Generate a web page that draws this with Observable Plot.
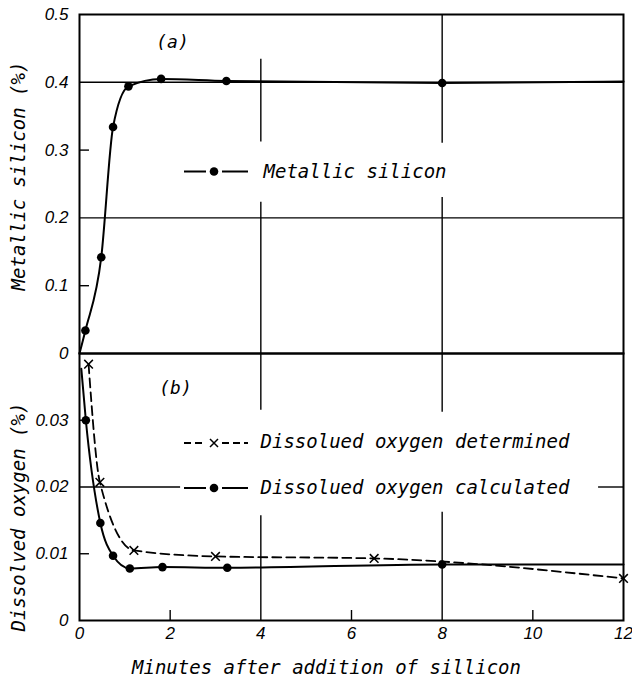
<!DOCTYPE html>
<html><head><meta charset="utf-8">
<script src="https://cdn.jsdelivr.net/npm/d3@7"></script>
<script src="https://cdn.jsdelivr.net/npm/@observablehq/plot@0.6"></script>
<style>
body{margin:0;background:#fff;}
#chart{width:632px;height:680px;position:relative;background:#fff;}
#chart svg{display:block;overflow:visible;}
</style></head><body><div id="chart"></div>
<script>
// ---- data ----
const siTime = [0.13, 0.48, 0.74, 1.08, 1.8, 3.24, 8];
const siValue = [0.034, 0.142, 0.334, 0.394, 0.405, 0.402, 0.399];
const siLineTime = [0, 0.13, 0.48, 0.74, 1.08, 1.8, 3.24, 8, 12];
const siLineValue = [0, 0.034, 0.142, 0.334, 0.394, 0.405, 0.402, 0.399, 0.401];

const detTime = [0.2, 0.45, 1.2, 3.0, 6.5, 12];
const detValue = [0.0384, 0.0207, 0.0105, 0.0096, 0.0093, 0.0063];

const calcTime = [0.14, 0.46, 0.74, 1.11, 1.83, 3.26, 8];
const calcValue = [0.030, 0.0146, 0.0097, 0.0078, 0.0080, 0.0079, 0.0084];
const calcLineTime = [0.04, 0.14, 0.46, 0.74, 1.11, 1.83, 3.26, 8, 12];
const calcLineValue = [0.0377, 0.030, 0.0146, 0.0097, 0.0078, 0.0080, 0.0079, 0.0084, 0.0084];

const xTicks = [0, 2, 4, 6, 8, 10, 12];
const xTickLabels = ["0", "2", "4", "6", "8", "10", "12"];
const siTicks = [0, 0.1, 0.2, 0.3, 0.4, 0.5];
const siTickLabels = ["0", "0.1", "0.2", "0.3", "0.4", "0.5"];
const oxTicks = [0, 0.01, 0.02, 0.03];
const oxTickLabels = ["0", "0.01", "0.02", "0.03"];

const labels = {
  x: "Minutes after addition of sillicon",
  ySi: "Metallic silicon (%)",
  yOx: "Dissolved oxygen (%)",
  a: "(a)", b: "(b)",
  legSi: "Metallic silicon",
  legDet: "Dissolued oxygen determined",
  legCalc: "Dissolued oxygen calculated"
};

// ---- tables ----
const siPts = siTime.map((t, i) => ({t, v: siValue[i]}));
const siLine = siLineTime.map((t, i) => ({t, v: siLineValue[i]}));
const detPts = detTime.map((t, i) => ({t, v: detValue[i]}));
const calcPts = calcTime.map((t, i) => ({t, v: calcValue[i]}));
const calcLine = calcLineTime.map((t, i) => ({t, v: calcLineValue[i]}));

const mono = "'DejaVu Sans Mono', 'Liberation Mono', monospace";
const tickFont = "'Liberation Sans', Arial, sans-serif";
const W = 632;
const txt = {fontFamily: mono, fontStyle: "italic", lineAnchor: "middle"};

const topPlot = Plot.plot({
  width: W, height: 353,
  marginLeft: 79, marginRight: 9, marginTop: 14, marginBottom: 0,
  x: {domain: [0, 12], axis: null},
  y: {domain: [0, 0.5], axis: null},
  style: {background: "white", overflow: "visible", color: "black"},
  marks: [
    Plot.ruleY([0.2, 0.4], {strokeWidth: 1.4}),
    Plot.ruleX([4], {y1: 0, y2: 0.223, strokeWidth: 1.4}),
    Plot.ruleX([4], {y1: 0.312, y2: 0.434, strokeWidth: 1.4}),
    Plot.ruleX([8], {y1: 0, y2: 0.23, strokeWidth: 1.4}),
    Plot.ruleX([8], {y1: 0.31, y2: 0.5, strokeWidth: 1.4}),
    Plot.ruleY([0.1, 0.3], {x1: 0, x2: 0.22, strokeWidth: 1.4}),
    Plot.frame({strokeWidth: 2}),
    Plot.axisY(siTicks, {tickSize: 0, tickPadding: 11, tickFormat: d => siTickLabels[siTicks.indexOf(d)],
      fontSize: 17, fontFamily: tickFont, fontStyle: "italic", label: null}),
    Plot.line(siLine, {x: "t", y: "v", curve: "monotone-x", strokeWidth: 2}),
    Plot.dot(siPts, {x: "t", y: "v", r: 4.3, fill: "black", stroke: "none"}),
    Plot.text([labels.ySi], {frameAnchor: "left", rotate: -90, dx: -61, dy: -8, textAnchor: "middle",
      fontSize: 19, ...txt}),
    Plot.text([labels.a], {frameAnchor: "top-left", dx: 93, dy: 28, textAnchor: "middle",
      fontSize: 18, ...txt}),
    Plot.text([labels.legSi], {frameAnchor: "top-left", dx: 184, dy: 157, textAnchor: "start",
      fontSize: 19, ...txt})
  ]
});

const botPlot = Plot.plot({
  width: W, height: 327,
  marginLeft: 79, marginRight: 9, marginTop: 0, marginBottom: 60,
  x: {domain: [0, 12], axis: null},
  y: {domain: [0, 0.04], axis: null},
  style: {background: "white", overflow: "visible", color: "black"},
  marks: [
    Plot.ruleY([0.02], {x1: 0, x2: 2.23, strokeWidth: 1.4}),
    Plot.ruleY([0.02], {x1: 11.45, x2: 12, strokeWidth: 1.4}),
    Plot.ruleX([4], {y1: 0, y2: 0.0157, strokeWidth: 1.4}),
    Plot.ruleX([4], {y1: 0.0315, y2: 0.04, strokeWidth: 1.4}),
    Plot.ruleX([8], {y1: 0, y2: 0.0162, strokeWidth: 1.4}),
    Plot.ruleX([8], {y1: 0.0312, y2: 0.04, strokeWidth: 1.4}),
    Plot.ruleY([0.01, 0.03], {x1: 0, x2: 0.22, strokeWidth: 1.4}),
    Plot.ruleX([2, 6, 10], {y1: 0, y2: 0.0015, strokeWidth: 1.4}),
    Plot.frame({strokeWidth: 2}),
    Plot.axisY(oxTicks, {tickSize: 0, tickPadding: 11, tickFormat: d => oxTickLabels[oxTicks.indexOf(d)],
      fontSize: 17, fontFamily: tickFont, fontStyle: "italic", label: null}),
    Plot.axisX(xTicks, {tickSize: 0, tickPadding: 6, tickFormat: d => xTickLabels[xTicks.indexOf(d)],
      fontSize: 17, fontFamily: tickFont, fontStyle: "italic", label: null}),
    Plot.line(calcLine, {x: "t", y: "v", curve: "monotone-x", strokeWidth: 2}),
    Plot.line(detPts, {x: "t", y: "v", curve: "monotone-x", strokeWidth: 1.8, strokeDasharray: "9,5"}),
    Plot.dot(calcPts, {x: "t", y: "v", r: 4.3, fill: "black", stroke: "none"}),
    Plot.dot(detPts, {x: "t", y: "v", r: 4, symbol: "times", stroke: "black", strokeWidth: 1.5}),
    Plot.text([labels.yOx], {frameAnchor: "left", rotate: -90, dx: -61, dy: 30, textAnchor: "middle",
      fontSize: 19, ...txt}),
    Plot.text([labels.x], {frameAnchor: "bottom", dx: -25, dy: 47, textAnchor: "middle",
      fontSize: 19, ...txt}),
    Plot.text([labels.b], {frameAnchor: "top-left", dx: 96, dy: 35, textAnchor: "middle",
      fontSize: 18, ...txt}),
    Plot.text([labels.legDet], {frameAnchor: "top-left", dx: 181, dy: 88, textAnchor: "start",
      fontSize: 19, ...txt}),
    Plot.text([labels.legCalc], {frameAnchor: "top-left", dx: 181, dy: 134, textAnchor: "start",
      fontSize: 19, ...txt})
  ]
});

// legend swatches
function swatch(svg, y, dashed, symbol) {
  const g = d3.select(svg).append("g").attr("stroke", "black").attr("fill", "black");
  const dash = dashed ? "7,4" : null;
  g.append("line").attr("x1", 184).attr("x2", 206).attr("y1", y).attr("y2", y)
    .attr("stroke-width", 2).attr("stroke-dasharray", dash);
  g.append("line").attr("x1", 222).attr("x2", 248).attr("y1", y).attr("y2", y)
    .attr("stroke-width", 2).attr("stroke-dasharray", dash);
  if (symbol === "dot") {
    g.append("circle").attr("cx", 214).attr("cy", y).attr("r", 4.3).attr("stroke", "none");
  } else {
    g.append("path").attr("d", `M${210},${y-4}L${218},${y+4}M${218},${y-4}L${210},${y+4}`)
      .attr("fill", "none").attr("stroke-width", 1.5);
  }
}
swatch(topPlot, 171.5, false, "dot");
swatch(botPlot, 90, true, "x");
swatch(botPlot, 135, false, "dot");

const chart = document.getElementById("chart");
chart.append(topPlot, botPlot);
</script></body></html>
